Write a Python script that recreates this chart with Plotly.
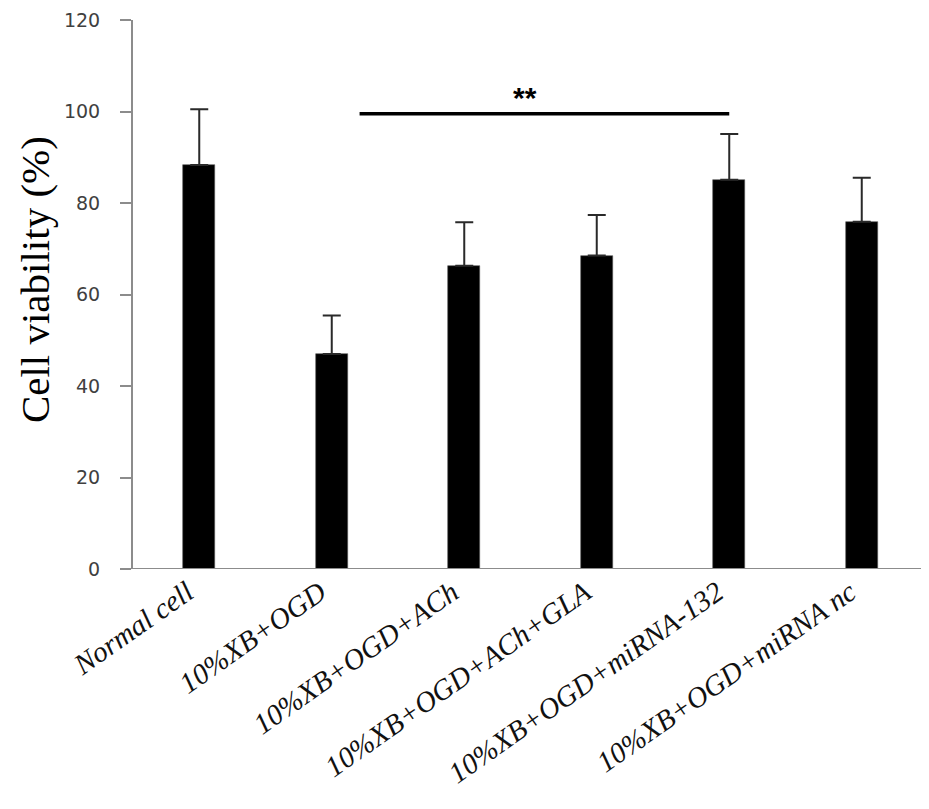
import plotly.graph_objects as go

# ---- data ----
categories = ["Normal cell", "10%XB+OGD", "10%XB+OGD+ACh", "10%XB+OGD+ACh+GLA",
              "10%XB+OGD+miRNA-132", "10%XB+OGD+miRNA nc"]
viability = [88.3, 47.0, 66.3, 68.5, 85.1, 75.9]
error_sd = [12.2, 8.4, 9.5, 8.9, 10.0, 9.6]
y_ticks = [0, 20, 40, 60, 80, 100, 120]

# significance bracket (category-index units) and its label
sig_from = 1.21
sig_to = 4.0
sig_level = 99.5
sig_text = "<b>**</b>"
sig_text_x = 2.46
sig_text_y = 103.0

y_title = "Cell viability (%)"

x_idx = list(range(len(categories)))

fig = go.Figure()
fig.add_trace(go.Bar(
    x=x_idx, y=viability, width=0.24,
    marker=dict(color="black", line=dict(color="#555555", width=0.6)),
    error_y=dict(type="data", array=error_sd, symmetric=False, arrayminus=[0]*len(error_sd),
                 color="#2a2a2a", thickness=2, width=9),
    showlegend=False, hoverinfo="skip",
))

# significance line
fig.add_trace(go.Scatter(
    x=[sig_from, sig_to], y=[sig_level, sig_level], mode="lines",
    line=dict(color="black", width=3.5), showlegend=False, hoverinfo="skip",
))

fig.add_annotation(x=sig_text_x, y=sig_text_y, text=sig_text, showarrow=False,
                   font=dict(family="Liberation Sans", size=30, color="black"),
                   xanchor="center", yanchor="middle")

# y-axis title placed as rotated text
fig.add_annotation(xref="paper", yref="paper", x=-0.124, y=0.527, text=y_title,
                   textangle=-90, showarrow=False, xanchor="center", yanchor="middle",
                   font=dict(family="Liberation Serif", size=41, color="black"))

# x-axis baseline extending a little left of the y axis
fig.add_shape(type="line", xref="paper", yref="y", x0=-0.0126, x1=1, y0=0, y1=0,
              line=dict(color="#8c8c8c", width=2))

fig.update_layout(
    width=921, height=803,
    margin=dict(l=125, r=1, t=9, b=242),
    paper_bgcolor="white", plot_bgcolor="white",
    bargap=0,
)
fig.update_xaxes(
    range=[-0.5, 5.5], tickmode="array", tickvals=x_idx,
    ticktext=["<i>%s</i>" % c for c in categories],
    tickangle=-35, showline=False, ticks="", showgrid=False, zeroline=False,
    ticklabelshift=-12,
    tickfont=dict(family="Liberation Serif", size=29, color="#111111"),
)
fig.update_yaxes(
    range=[0, 120], tickmode="array", tickvals=y_ticks,
    showline=True, linecolor="#8c8c8c", linewidth=2,
    ticks="outside", ticklen=11, tickcolor="#8c8c8c", tickwidth=2,
    ticklabelstandoff=16, ticklabeloverflow="allow",
    showgrid=False, zeroline=False,
    tickfont=dict(family="DejaVu Sans", size=19, color="#404040"),
)

fig.write_html("out.html")
